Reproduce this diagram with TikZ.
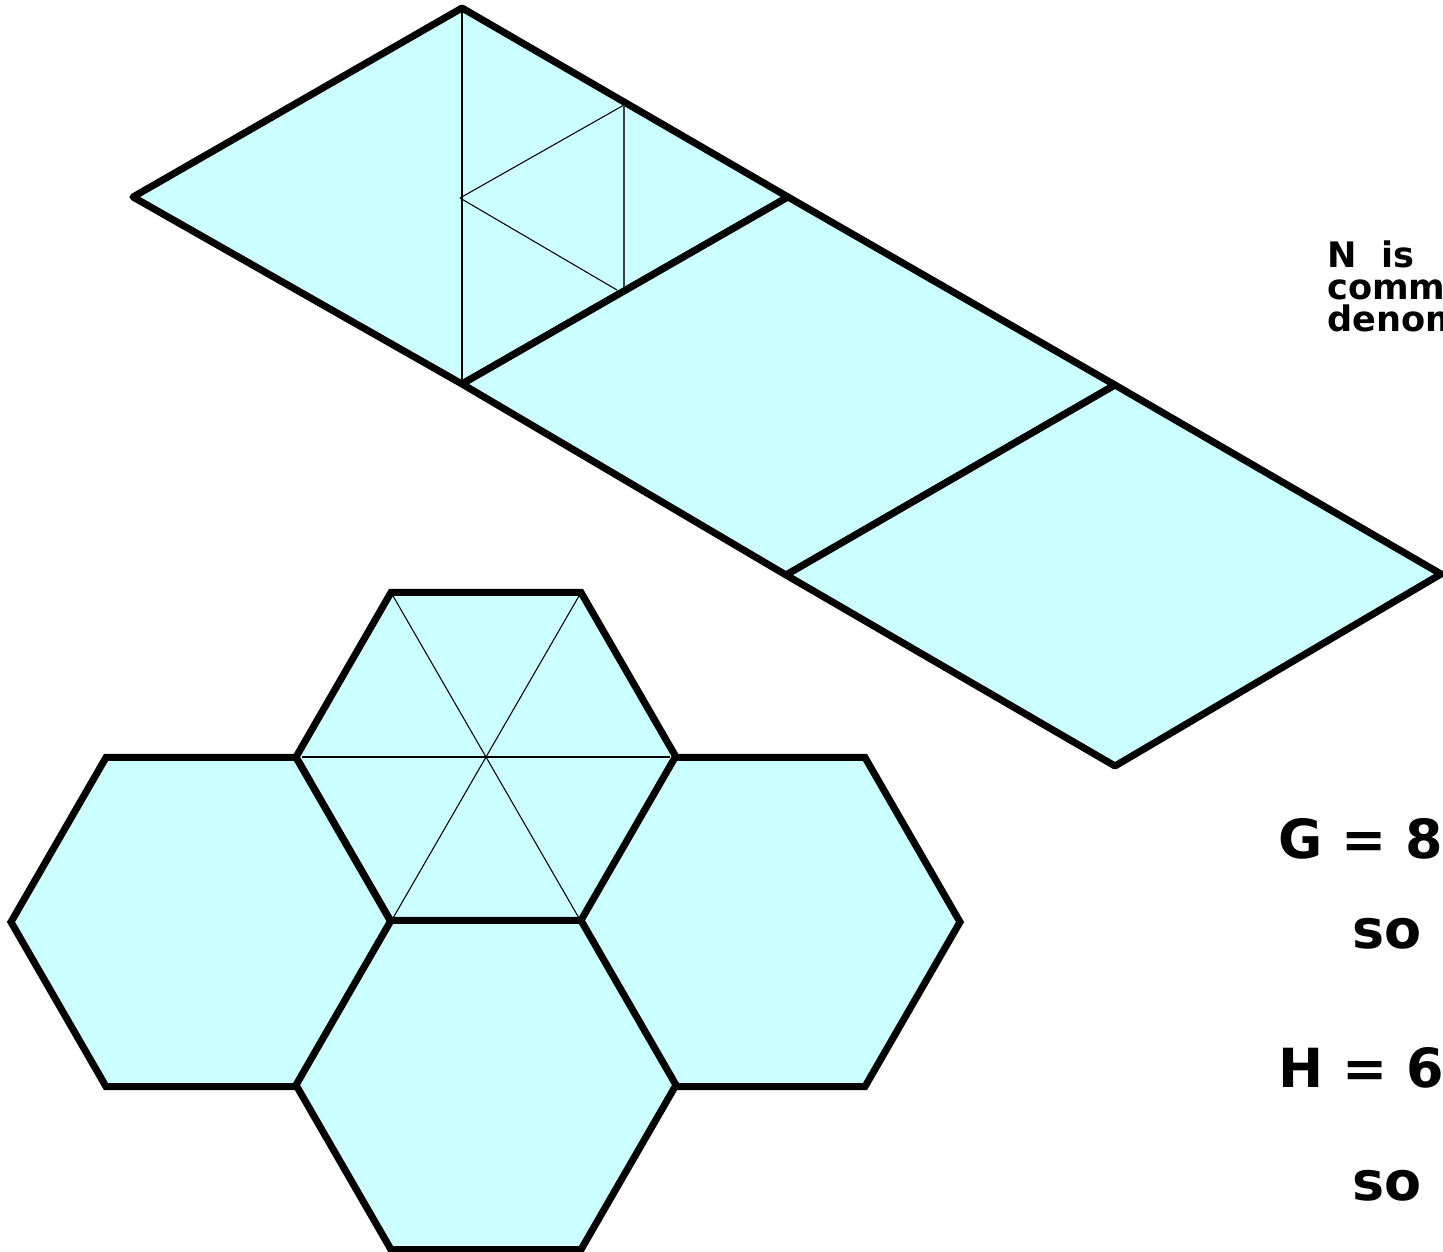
\documentclass[tikz,border=0pt]{standalone}
\usepackage{fontspec}
\setmainfont{DejaVu Sans}
\usetikzlibrary{calc}
\definecolor{paleCyan}{HTML}{CCFFFF}
\begin{document}
\begin{tikzpicture}[x=0.02cm,y=-0.02cm,
  shapeline/.style={draw=black,line width=4pt,fill=paleCyan,line join=miter},
  rhombline/.style={draw=black,line width=4pt,fill=paleCyan,line join=round},
  thinline/.style={draw=black,line width=0.6pt},
  smalltext/.style={anchor=base west,inner sep=0pt,font=\bfseries\fontsize{20}{23}\selectfont},
  bigtext/.style={anchor=base west,inner sep=0pt,font=\bfseries\fontsize{30.7}{36}\selectfont}]
\useasboundingbox (0,0) rectangle (1443,1251);
% strip of rhombi
\coordinate (p1) at (133,197);
\coordinate (p2) at (462,8);
\coordinate (p3) at (788,197);
\coordinate (p4) at (1115,385);
\coordinate (p5) at (1441,574);
\coordinate (p6) at (1115,766);
\coordinate (p7) at (786,575);
\coordinate (p8) at (462,384);
\path[rhombline] (p1) -- (p2) -- (p3) -- (p8) -- cycle;
\path[rhombline] (p8) -- (p3) -- (p4) -- (p7) -- cycle;
\path[rhombline] (p7) -- (p4) -- (p5) -- (p6) -- cycle;
% inner lines of first rhombus
\coordinate (q0) at (460,198);
\coordinate (q1) at (624,105);
\coordinate (q2) at (617,290);
\coordinate (q3) at (624,287);
\coordinate (q8) at (462,380);
\coordinate (q9) at (462,12);
\draw[thinline] (q9) -- (q8);
\draw[thinline] (q0) -- (q1);
\draw[thinline] (q0) -- (q2);
\draw[thinline,line width=1pt,draw=black!75] (q1) -- (q3);
% hexagons
\foreach \n/\cx/\cy in {T/486/757, L/201/922, R/770/922, B/486/1085} {
  \coordinate (\n) at (\cx,\cy);
  \path[shapeline] ($(\n)+(0:190)$) -- ($(\n)+(60:190)$) -- ($(\n)+(120:190)$)
    -- ($(\n)+(180:190)$) -- ($(\n)+(240:190)$) -- ($(\n)+(300:190)$) -- cycle;
}
% inner lines of top hexagon
\draw[thinline] ($(T)+(60:186)$) -- ($(T)+(240:186)$);
\draw[thinline] ($(T)+(120:186)$) -- ($(T)+(300:186)$);
\draw[thinline] ($(T)+(180:184)$) -- ($(T)+(0:184)$);
% texts
\node[smalltext] (t1) at (1327,267) {N\ \ is};
\node[smalltext] (t2) at (1327,299) {comm};
\node[smalltext] (t3) at (1327,331) {denom};
\node[bigtext] (t4) at (1278,858) {G = 8};
\node[bigtext] (t5) at (1352,948) {so};
\node[bigtext] (t6) at (1278,1087) {H = 6};
\node[bigtext] (t7) at (1352,1200) {so};
\end{tikzpicture}
\end{document}
